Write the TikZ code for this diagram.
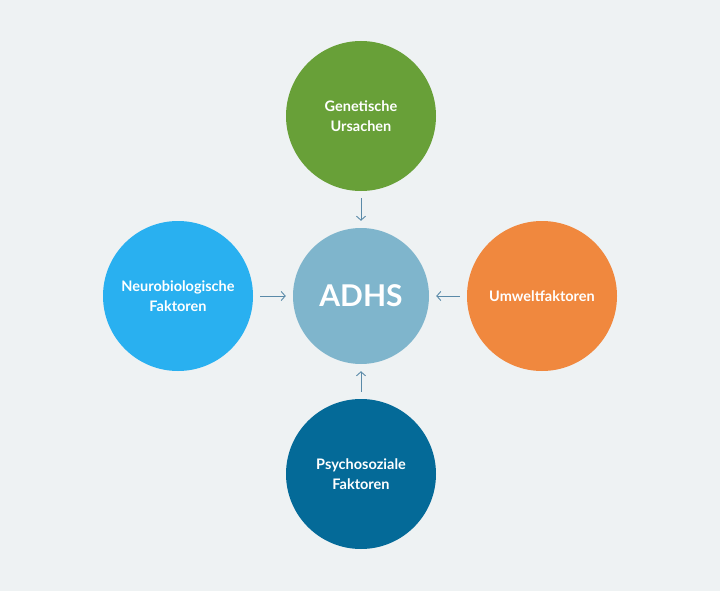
\documentclass[tikz,border=0pt]{standalone}
\usepackage{fontspec}
\setmainfont{Lato}
\usepackage{tikz}
\usetikzlibrary{arrows.meta}

\definecolor{bg}{RGB}{238,242,243}
\definecolor{gruen}{RGB}{104,160,56}
\definecolor{hellblau}{RGB}{41,176,240}
\definecolor{orange}{RGB}{240,136,62}
\definecolor{dunkelblau}{RGB}{4,106,152}
\definecolor{mitte}{RGB}{127,181,204}
\definecolor{pfeil}{RGB}{90,138,168}

\tikzset{
  faktor/.style={circle, minimum size=150pt, inner sep=0pt, text=white, align=center,
    font=\fontsize{14.5}{20}\selectfont\bfseries},
  pfeil/.style={->, >={Straight Barb[length=4pt,width=9pt]}, draw=pfeil, line width=0.9pt,
    shorten >=7pt, shorten <=7pt}
}

\begin{document}
\begin{tikzpicture}[x=1pt,y=-1pt]
        \fill[bg] (0,0) rectangle (720,591);
        \useasboundingbox (0,0) rectangle (720,591);

        \node[faktor, fill=mitte, minimum size=136pt, font=\fontsize{30}{30}\selectfont\bfseries] (adhs) at (361,296) {ADHS};
        \node[faktor, fill=gruen] (gen) at (361,116) {Genetische\\Ursachen};
        \node[faktor, fill=hellblau] (neuro) at (178,296) {Neurobiologische\\Faktoren};
        \node[faktor, fill=orange] (umwelt) at (542,296) {Umweltfaktoren};
        \node[faktor, fill=dunkelblau] (psycho) at (361,474) {Psychosoziale\\Faktoren};

        \draw[pfeil] (gen) -- (adhs); % Genetik -> ADHS
        \draw[pfeil] (neuro) -- (adhs); % Neurobiologie -> ADHS
        \draw[pfeil] (umwelt) -- (adhs); % Umwelt -> ADHS
        \draw[pfeil] (psycho) -- (adhs); % Psychosozial -> ADHS
    \end{tikzpicture}
\end{document}
